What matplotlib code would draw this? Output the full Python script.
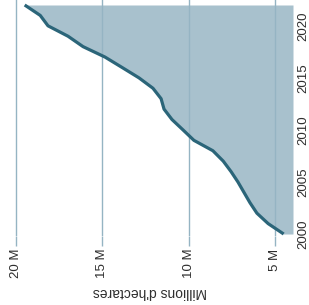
import matplotlib
matplotlib.use("Agg")
import matplotlib.pyplot as plt

plt.rcParams['font.family'] = ['Liberation Sans', 'DejaVu Sans']

# data (millions of hectares per year)
years = [2000, 2001, 2002, 2003, 2004, 2005, 2006, 2007, 2008, 2009, 2010,
         2011, 2012, 2013, 2014, 2015, 2016, 2017, 2018, 2019, 2020, 2021, 2022]
hectares = [4.5, 5.4, 6.05, 6.45, 6.8, 7.15, 7.55, 8.0, 8.6, 9.7, 10.33,
            10.97, 11.43, 11.6, 12.07, 12.88, 13.86, 14.85, 16.12, 16.99, 18.15, 18.6, 19.5]
value_ticks = [5, 10, 15, 20]
value_labels = ['5 M', '10 M', '15 M', '20 M']
year_ticks = [2000, 2005, 2010, 2015, 2020]

fill_color = '#a8c1cd'
line_color = '#2b6579'
grid_color = '#95b4c3'
text_color = '#2e2e2e'

fig = plt.figure(figsize=(3.09, 3.05), dpi=100)
# chart is drawn turned a quarter turn: values run right-to-left, years bottom-to-top
ax = fig.add_axes([0, (305 - 236) / 305, 293 / 309, 236 / 305])

vmin, vmax = 3.96, 20.93
ax.set_xlim(vmax, vmin)
ax.set_ylim(1999.81, 2022.48)

ax.fill_betweenx(years, hectares, vmin, color=fill_color, lw=0, zorder=1)
for v in value_ticks:
    ax.axvline(v, color=grid_color, lw=1, zorder=2)
ax.plot(hectares, years, color=line_color, lw=2.3, zorder=3,
        solid_capstyle='butt', solid_joinstyle='round')

for s in ax.spines.values():
    s.set_visible(False)

ax.set_xticks(value_ticks)
ax.set_xticklabels(value_labels, rotation=90, va='top', ha='center')
ax.tick_params(axis='x', length=7, width=1, color=grid_color, pad=2,
               labelsize=9.5, labelcolor=text_color)

ax.yaxis.tick_right()
ax.set_yticks(year_ticks)
ax.set_yticklabels([str(y) for y in year_ticks], rotation=90, va='center', ha='left')
ax.tick_params(axis='y', length=0, pad=3, labelsize=9.5, labelcolor=text_color)

fig.text(150 / 309, 1 - 292 / 305, "Millions d'hectares", rotation=180,
         ha='center', va='center', fontsize=10, color=text_color)

fig.savefig('out.png', dpi=100)
